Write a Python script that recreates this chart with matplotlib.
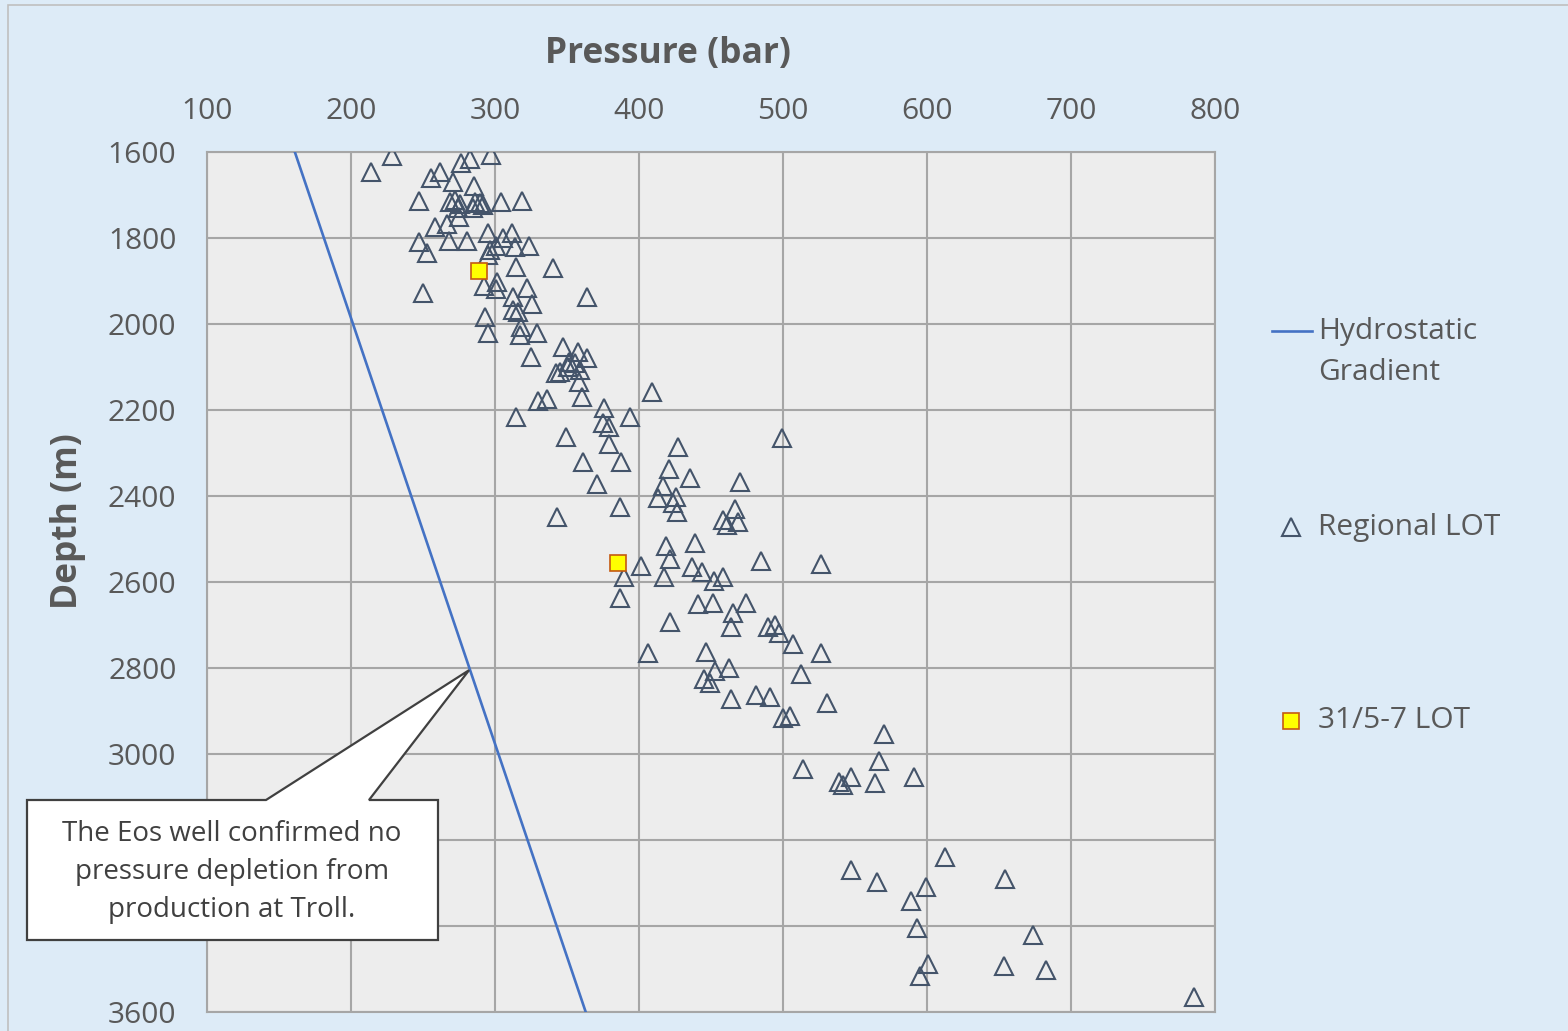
import matplotlib
matplotlib.use("Agg")
import matplotlib.pyplot as plt
from matplotlib.patches import Polygon, Rectangle
from matplotlib.lines import Line2D

plt.rcParams['font.family'] = ['Open Sans', 'DejaVu Sans']

# Regional LOT (pressure bar, depth m)
lot_pressure = [
    228.5, 213.9, 255.6, 261.8, 276.4, 282.6, 297.2, 270.8, 285.4, 247.2,
    268.8, 272.2, 275.7, 286.1, 289.6, 291.7, 284.7, 274.3, 275.0, 304.2,
    318.8, 258.3, 266.7, 247.2, 252.8, 268.1, 280.6, 295.1, 311.8, 300.7,
    296.5, 295.1, 305.6, 313.9, 323.6, 314.6, 340.3, 301.4, 300.7, 292.4,
    250.0, 322.2, 312.5, 325.7, 363.9, 312.5, 316.0, 293.0, 318.0, 317.4,
    329.2, 295.1, 325.0, 347.2, 357.6, 363.9, 351.4, 355.6, 359.0, 345.1,
    342.4, 350.7, 358.3, 360.4, 329.9, 336.1, 314.6, 409.0, 375.7, 375.0,
    379.2, 393.8, 349.3, 379.2, 361.1, 387.5, 370.8, 427.1, 420.8, 435.4,
    416.7, 413.2, 425.7, 423.6, 426.4, 386.8, 343.1, 470.1, 499.3, 458.3,
    466.7, 461.1, 468.8, 418.8, 438.9, 401.4, 421.5, 417.4, 389.6, 436.8,
    443.8, 452.1, 458.3, 484.7, 526.4, 386.8, 441.0, 451.4, 474.3, 465.3,
    421.5, 463.9, 489.6, 494.4, 497.2, 506.9, 406.3, 446.5, 526.4, 452.8,
    462.5, 445.1, 449.3, 463.9, 481.3, 491.0, 512.5, 530.6, 500.0, 504.9,
    513.9, 538.9, 541.7, 547.2, 563.9, 566.7, 570.1, 591.0, 547.2, 565.3,
    599.3, 588.9, 612.5, 654.2, 593.1, 673.6, 600.7, 595.1, 653.5, 682.6,
    785.4,
]
lot_depth = [
    1609, 1647, 1660, 1647, 1626, 1616, 1607, 1670, 1679, 1714,
    1716, 1712, 1721, 1716, 1719, 1723, 1730, 1730, 1751, 1716,
    1714, 1774, 1767, 1809, 1835, 1807, 1807, 1788, 1788, 1819,
    1828, 1840, 1800, 1821, 1819, 1867, 1870, 1902, 1919, 1912,
    1928, 1916, 1937, 1953, 1937, 1967, 1972, 1984, 2007, 2026,
    2021, 2021, 2077, 2053, 2065, 2079, 2088, 2091, 2107, 2112,
    2114, 2100, 2135, 2170, 2179, 2174, 2216, 2158, 2195, 2230,
    2240, 2216, 2263, 2279, 2321, 2321, 2372, 2286, 2337, 2358,
    2377, 2405, 2402, 2416, 2437, 2426, 2449, 2367, 2265, 2456,
    2430, 2467, 2460, 2516, 2509, 2563, 2547, 2588, 2588, 2565,
    2577, 2598, 2588, 2551, 2558, 2637, 2651, 2649, 2649, 2672,
    2693, 2705, 2705, 2700, 2719, 2744, 2765, 2763, 2765, 2807,
    2800, 2826, 2835, 2872, 2863, 2867, 2814, 2881, 2916, 2912,
    3035, 3065, 3072, 3053, 3067, 3016, 2953, 3053, 3270, 3298,
    3309, 3342, 3240, 3291, 3405, 3421, 3488, 3516, 3493, 3502,
    3565,
]

# 31/5-7 LOT
well_pressure = [288.9, 385.4]
well_depth = [1877, 2556]

# Hydrostatic gradient
hydro_pressure = [161, 363]
hydro_depth = [1600, 3600]

x_ticks = [100, 200, 300, 400, 500, 600, 700, 800]
y_ticks = [1600, 1800, 2000, 2200, 2400, 2600, 2800, 3000, 3200, 3400, 3600]
# 3200 and 3400 sit under the callout box in the original
y_labels = ['1600', '1800', '2000', '2200', '2400', '2600', '2800', '3000', '', '', '3600']

W, H = 1568, 1031
fig = plt.figure(figsize=(W / 100, H / 100), dpi=100)
fig.patch.set_facecolor('#DDEBF7')
fig.add_artist(Rectangle((8 / W, -0.1), 1.2, 1 - 5 / H + 0.1, transform=fig.transFigure,
                         facecolor='none', edgecolor='#BFBFBF', linewidth=1.2))

ax = fig.add_axes([207 / W, 1 - 1012 / H, 1008 / W, 860 / H])
ax.set_facecolor('#EDEDED')

ax.plot(hydro_pressure, hydro_depth, color='#4472C4', linewidth=1.9, zorder=3)
ax.plot(lot_pressure, lot_depth, linestyle='none', marker='^', markersize=12.5,
        markerfacecolor='none', markeredgecolor='#44546A', markeredgewidth=1.5, zorder=4)
ax.plot(well_pressure, well_depth, linestyle='none', marker='s', markersize=12,
        markerfacecolor='#FFFF00', markeredgecolor='#C55A11', markeredgewidth=1.2, zorder=5)

ax.set_xlim(100, 800)
ax.set_ylim(3600, 1600)
ax.set_xticks(x_ticks)
ax.set_yticks(y_ticks)
ax.set_yticklabels(y_labels)
ax.xaxis.tick_top()
ax.grid(True, color='#A6A6A6', linewidth=1.5)
ax.set_axisbelow(True)
for s in ax.spines.values():
    s.set_color('#A6A6A6')
    s.set_linewidth(1.5)
ax.tick_params(length=0, labelsize=21.5, labelcolor='#595959')
ax.tick_params(axis='x', pad=19)
ax.tick_params(axis='y', pad=22)

fig.text(668 / W, 1 - 54 / H, 'Pressure (bar)', ha='center', va='center',
         fontsize=25.5, fontweight='bold', color='#595959')
fig.text(68 / W, 1 - 521 / H, 'Depth (m)', ha='center', va='center', rotation=90,
         fontsize=25.5, fontweight='bold', color='#595959')

# legend, drawn by hand to keep Excel's spacing
fig.add_artist(Line2D([1272 / W, 1312 / W], [1 - 331 / H] * 2, transform=fig.transFigure,
                      color='#4472C4', linewidth=1.9))
fig.text(1318 / W, 1 - 331 / H, 'Hydrostatic', ha='left', va='center', fontsize=21.5, color='#595959')
fig.text(1318 / W, 1 - 372 / H, 'Gradient', ha='left', va='center', fontsize=21.5, color='#595959')
fig.add_artist(Line2D([1291 / W], [1 - 527 / H], transform=fig.transFigure, marker='^',
                      markersize=12.5, markerfacecolor='none', markeredgecolor='#44546A',
                      markeredgewidth=1.5))
fig.text(1318 / W, 1 - 527 / H, 'Regional LOT', ha='left', va='center', fontsize=21.5, color='#595959')
fig.add_artist(Line2D([1291 / W], [1 - 721 / H], transform=fig.transFigure, marker='s',
                      markersize=12, markerfacecolor='#FFFF00', markeredgecolor='#C55A11',
                      markeredgewidth=1.2))
fig.text(1318 / W, 1 - 721 / H, '31/5-7 LOT', ha='left', va='center', fontsize=21.5, color='#595959')

# callout pointing at the hydrostatic line
tip = fig.transFigure.inverted().transform(ax.transData.transform((282, 2805)))
box = [(27, 800), (266, 800), None, (369, 800), (438, 800), (438, 940), (27, 940)]
pts = []
for p in box:
    if p is None:
        pts.append(tuple(tip))
    else:
        pts.append((p[0] / W, 1 - p[1] / H))
fig.add_artist(Polygon(pts, closed=True, transform=fig.transFigure, facecolor='white',
                       edgecolor='#404040', linewidth=1.6, zorder=10))
fig.text(232 / W, 1 - 872 / H,
         'The Eos well confirmed no\npressure depletion from\nproduction at Troll.',
         ha='center', va='center', fontsize=20, color='#404040', linespacing=1.47, zorder=11)

fig.savefig('out.png', dpi=100, facecolor=fig.get_facecolor())
